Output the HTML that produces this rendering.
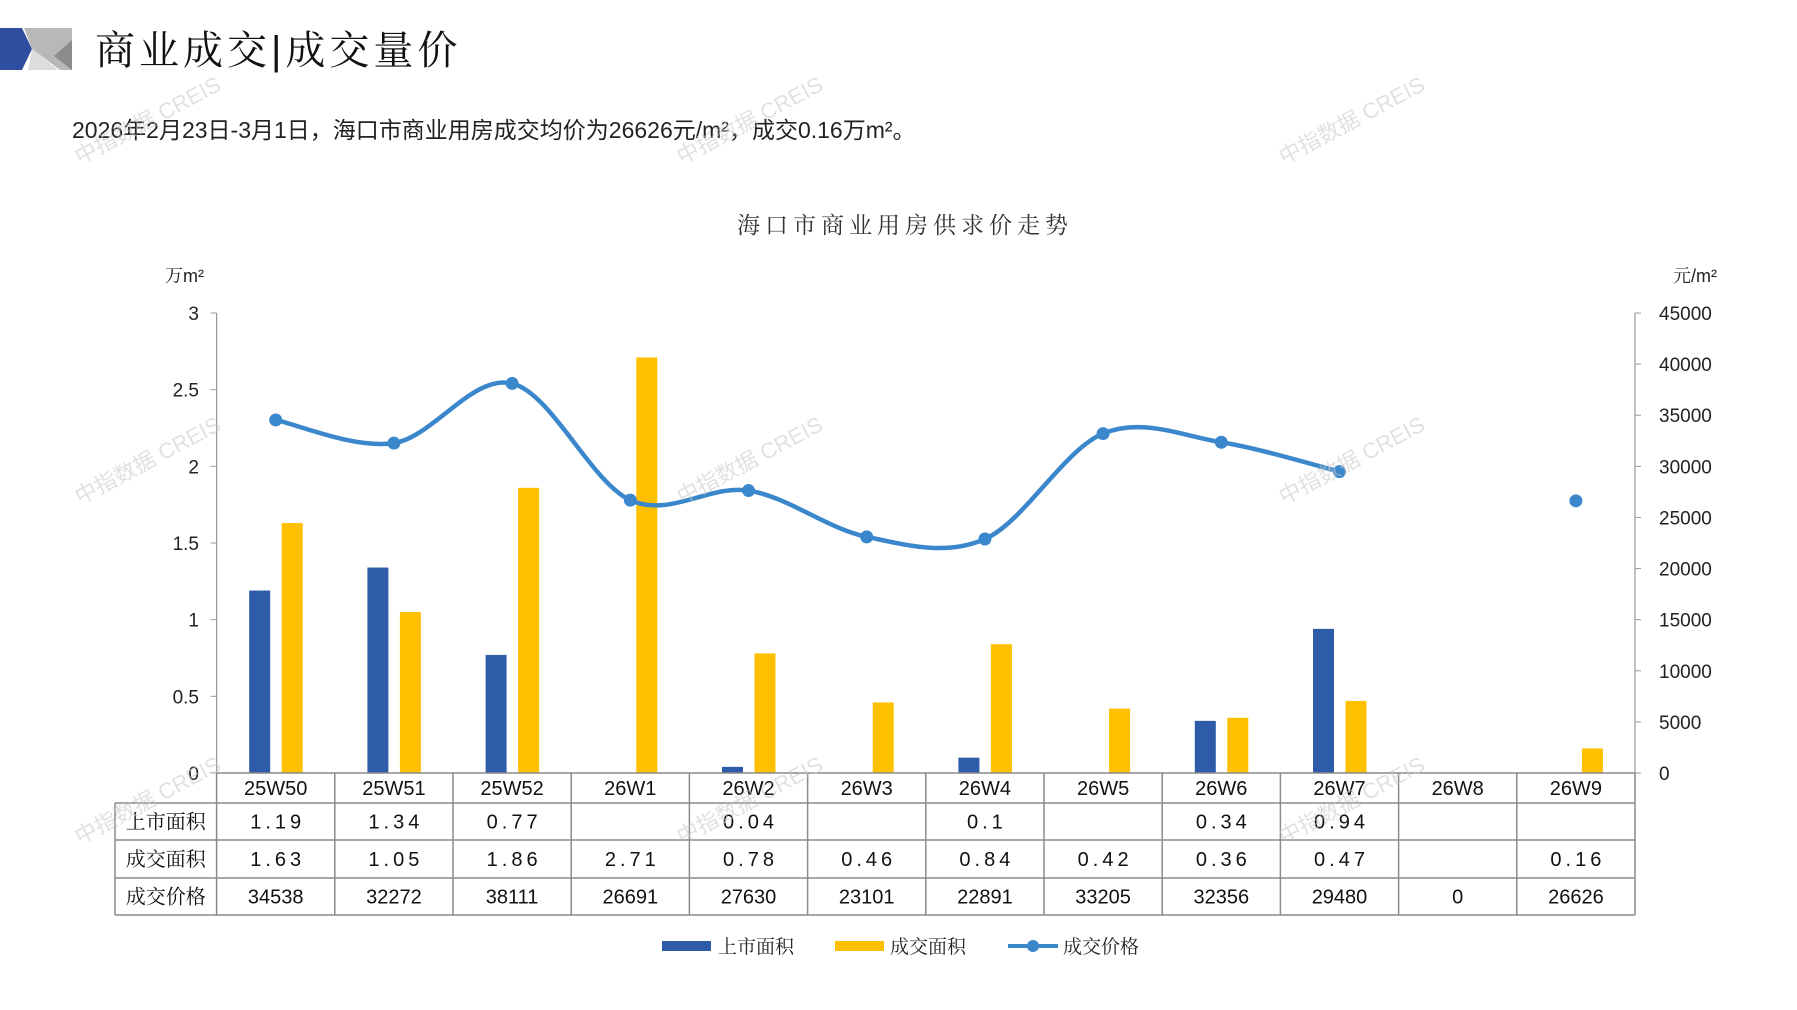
<!DOCTYPE html>
<html><head><meta charset="utf-8"><style>
body{margin:0;background:#fff;width:1797px;height:1010px;overflow:hidden;}
svg{display:block}
.cjk{font-family:"Liberation Sans","Noto Serif CJK SC",serif;}
.num{font-family:"Liberation Sans","Noto Sans CJK SC",sans-serif;}
</style></head><body>
<svg id="chart" width="1797" height="1010" viewBox="0 0 1797 1010" xmlns="http://www.w3.org/2000/svg">
<g>
<polygon points="0,28 22,28 32,49 22,70 0,70" fill="#2f4ea0"/>
<polygon points="24,28 72,28 72,70 60,70 32,49" fill="#b8b8b8"/>
<polygon points="32,49 58,70 28,70" fill="#dcdcdc"/>
<polygon points="72,40 72,70 54,56" fill="#8c8c8c"/>
</g>
<text x="95" y="64" font-size="40" class="cjk" fill="#111" letter-spacing="4">商业成交|成交量价</text>
<text x="72" y="138" font-size="23" font-family="'Liberation Sans','Noto Sans CJK SC',sans-serif" fill="#222">2026年2月23日-3月1日，海口市商业用房成交均价为26626元/m²，成交0.16万m²。</text>
<text x="905" y="233" font-size="23" text-anchor="middle" class="cjk" fill="#333" letter-spacing="5">海口市商业用房供求价走势</text>
<text x="165" y="282" font-size="18" class="cjk" fill="#222">万m²</text>
<text x="1673" y="282" font-size="18" class="cjk" fill="#222">元/m²</text>
<g id="axes"></g><g id="bars"></g><g id="line"></g><g id="table"></g>
<g>
<rect x="662" y="941" width="49" height="10" fill="#2e5ca8"/>
<text x="718" y="953" font-size="19" class="cjk" fill="#222">上市面积</text>
<rect x="835" y="941" width="49" height="10" fill="#ffc000"/>
<text x="890" y="953" font-size="19" class="cjk" fill="#222">成交面积</text>
<line x1="1008" y1="946" x2="1058" y2="946" stroke="#3a87cc" stroke-width="4"/>
<circle cx="1033" cy="946" r="6" fill="#3a87cc"/>
<text x="1063" y="953" font-size="19" class="cjk" fill="#222">成交价格</text>
</g>
<g id="wm" fill="#c8c8c8" opacity="0.55" font-size="22" font-family="'Liberation Sans','Noto Sans CJK SC',sans-serif"></g>
</svg>
<script>
const categories=["25W50","25W51","25W52","26W1","26W2","26W3","26W4","26W5","26W6","26W7","26W8","26W9"];
const supply=[1.19,1.34,0.77,null,0.04,null,0.1,null,0.34,0.94,null,null];
const deal=[1.63,1.05,1.86,2.71,0.78,0.46,0.84,0.42,0.36,0.47,null,0.16];
const price=[34538,32272,38111,26691,27630,23101,22891,33205,32356,29480,0,26626];
const leftTicks=["0","0.5","1","1.5","2","2.5","3"];
const rightTicks=["0","5000","10000","15000","20000","25000","30000","35000","40000","45000"];
const NS="http://www.w3.org/2000/svg";
const X0=216.6,X1=1635,Y0=773,Y1=313;
const cw=(X1-X0)/categories.length;
const cx=i=>X0+cw*(i+0.5);
const yL=v=>Y0-(v/3)*(Y0-Y1);
const yR=v=>Y0-(v/45000)*(Y0-Y1);
function mk(tag,parent,attrs){const e=document.createElementNS(NS,tag);for(const k in attrs)e.setAttribute(k,attrs[k]);parent.appendChild(e);return e;}
const axes=document.getElementById('axes');
let e=mk('line',axes,{x1:X0,y1:Y0,x2:X0,y2:Y1,stroke:'#999','stroke-width':1.2});


e=mk('line',axes,{x1:X1,y1:Y0,x2:X1,y2:Y1,stroke:'#999','stroke-width':1.2});


leftTicks.forEach(t=>{const y=yL(parseFloat(t));
 mk('line',axes,{x1:X0-6,y1:y,x2:X0,y2:y,stroke:'#999'});
 const tx=mk('text',axes,{x:199,y:y+7,'font-size':19,'text-anchor':'end',fill:'#222',class:'num'});tx.textContent=t;
 
 });
rightTicks.forEach(t=>{const y=yR(parseFloat(t));
 mk('line',axes,{x1:X1,y1:y,x2:X1+6,y2:y,stroke:'#999'});
 const tx=mk('text',axes,{x:1659,y:y+7,'font-size':19,fill:'#222',class:'num'});tx.textContent=t;
 
 });
const bars=document.getElementById('bars');
categories.forEach((c,i)=>{
 if(supply[i]!=null){const b=mk('rect',bars,{x:cx(i)-26.5,y:yL(supply[i]),width:21,height:Y0-yL(supply[i]),fill:'#2e5ca8'});
  
  }
 if(deal[i]!=null){const b=mk('rect',bars,{x:cx(i)+6,y:yL(deal[i]),width:21,height:Y0-yL(deal[i]),fill:'#ffc000'});
  
  }
});
const line=document.getElementById('line');
let segs=[],cur=[];
price.forEach((p,i)=>{if(p>0)cur.push([cx(i),yR(p)]);else{if(cur.length)segs.push(cur);cur=[];}});
if(cur.length)segs.push(cur);
segs.forEach(s=>{if(s.length<2)return;let d='M'+s[0][0]+','+s[0][1];
 for(let i=0;i<s.length-1;i++){const p0=s[i-1]||s[i],p1=s[i],p2=s[i+1],p3=s[i+2]||p2;const t=1/3;
  const c1=[p1[0]+(p2[0]-p0[0])*t/2,p1[1]+(p2[1]-p0[1])*t/2];const c2=[p2[0]-(p3[0]-p1[0])*t/2,p2[1]-(p3[1]-p1[1])*t/2];
  d+=' C'+c1[0]+','+c1[1]+' '+c2[0]+','+c2[1]+' '+p2[0]+','+p2[1];}
 const pth=mk('path',line,{d:d,fill:'none',stroke:'#3a87cc','stroke-width':4.5});
 
 });
price.forEach((p,i)=>{if(p>0){const c=mk('circle',line,{cx:cx(i),cy:yR(p),r:6.5,fill:'#3a87cc'});
 
 }});
const tb=document.getElementById('table');
const rows=[[773,803],[803,840],[840,878],[878,915]];
const TL=115;
const g=(x1,y1,x2,y2)=>mk('line',tb,{x1,y1,x2,y2,stroke:'#8a8a8a','stroke-width':1.5});
g(X0,rows[0][0],X1,rows[0][0]);
g(TL,rows[1][0],X1,rows[1][0]);g(TL,rows[2][0],X1,rows[2][0]);g(TL,rows[3][0],X1,rows[3][0]);g(TL,rows[3][1],X1,rows[3][1]);
g(TL,rows[1][0],TL,rows[3][1]);
for(let i=0;i<=categories.length;i++)g(X0+cw*i,rows[0][0],X0+cw*i,rows[3][1]);
const rowLabels=["上市面积","成交面积","成交价格"];
const rowData=[supply,deal,price];
function txt(x,y,s,name,cls){const t=mk('text',tb,{x:x,y:y,'font-size':20,'text-anchor':'middle',fill:'#111',class:cls});t.textContent=s;
 
 }
categories.forEach((c,i)=>txt(cx(i),(rows[0][0]+rows[0][1])/2+7,c,'table-header-'+c,'num'));
rowLabels.forEach((l,r)=>{txt((TL+X0)/2,(rows[r+1][0]+rows[r+1][1])/2+7,l,'table-row-label','cjk');
 rowData[r].forEach((v,i)=>{if(v!=null)txt(cx(i),(rows[r+1][0]+rows[r+1][1])/2+7,r<2?String(v).split('').join('\u2009'):String(v),'table-cell','num');});});
const wm=document.getElementById('wm');
[[80,165],[682,165],[1284,165],[80,505],[682,505],[1284,505],[80,845],[682,845],[1284,845]].forEach(p=>{
 const t=mk('text',wm,{x:p[0],y:p[1],transform:'rotate(-28 '+p[0]+' '+p[1]+')'});t.textContent='中指数据 CREIS';
 
 });
</script>
</body></html>
